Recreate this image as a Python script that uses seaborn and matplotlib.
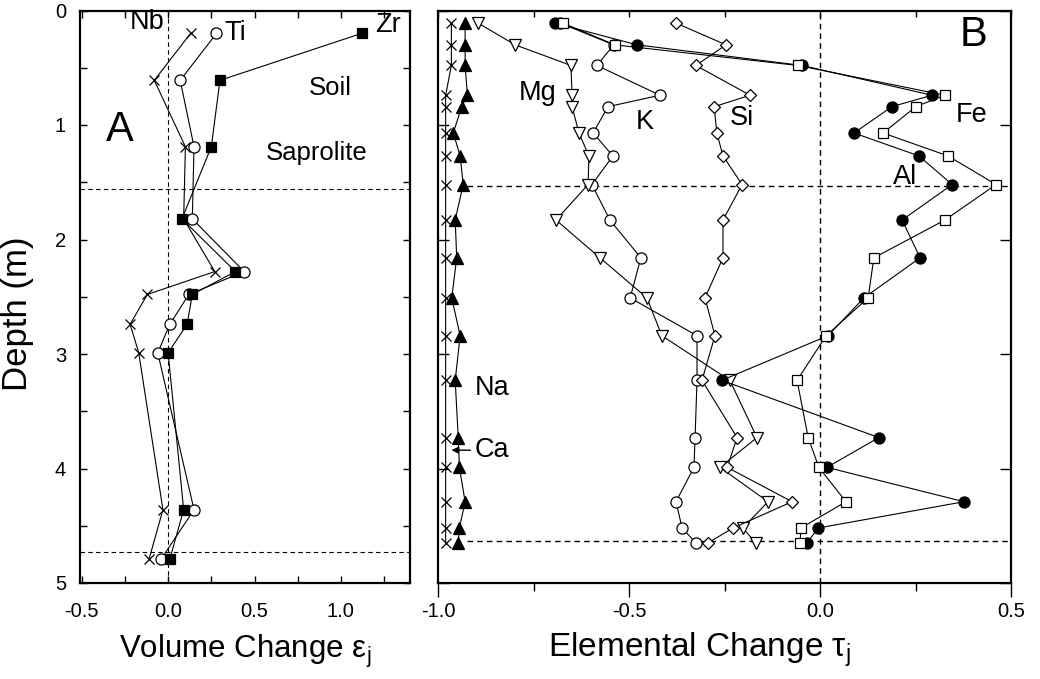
import numpy as np
import pandas as pd
import matplotlib
matplotlib.use('Agg')
import matplotlib.pyplot as plt
from matplotlib.ticker import MultipleLocator, FixedLocator
import seaborn as sns

# ---------------- data ----------------
# Panel A : volume change vs depth
depth_a = [0.20, 0.61, 1.19, 1.82, 2.28, 2.48, 2.74, 2.99, 4.36, 4.79]
zr = [1.12, 0.30, 0.25, 0.08, 0.39, 0.14, 0.11, 0.00, 0.09, 0.01]
ti = [0.28, 0.07, 0.15, 0.14, 0.44, 0.12, 0.01, -0.06, 0.15, -0.04]
nb = [0.13, -0.08, 0.10, 0.09, 0.27, -0.12, -0.22, -0.17, -0.03, -0.11]

# Panel B : elemental change vs depth
depth_b = [0.11, 0.30, 0.48, 0.74, 0.84, 1.07, 1.27, 1.52, 1.83, 2.16,
           2.51, 2.84, 3.23, 3.73, 3.99, 4.29, 4.52, 4.65]
fe = [-0.673, -0.537, -0.058, 0.327, 0.251, 0.165, 0.335, 0.461, 0.327, 0.141,
      0.126, 0.016, -0.060, -0.031, -0.003, 0.068, -0.050, -0.052]
al = [-0.694, -0.479, -0.047, 0.293, 0.188, 0.089, 0.259, 0.346, 0.215, 0.262,
      0.115, 0.021, -0.257, 0.154, 0.018, 0.377, -0.005, -0.034]
si = [-0.377, -0.246, -0.325, -0.183, -0.277, -0.270, -0.254, -0.204, -0.254, -0.254,
      -0.301, -0.275, -0.309, -0.217, -0.243, -0.073, -0.228, -0.293]
k = [-0.680, -0.540, -0.584, -0.419, -0.555, -0.594, -0.542, -0.597, -0.550, -0.469,
     -0.497, -0.322, -0.322, -0.327, -0.330, -0.377, -0.361, -0.325]
mg = [-0.895, -0.798, -0.652, -0.649, -0.649, -0.631, -0.605, -0.607, -0.691, -0.576,
      -0.453, -0.414, -0.236, -0.165, -0.262, -0.136, -0.202, -0.168]
na = [-0.929, -0.929, -0.929, -0.923, -0.938, -0.960, -0.942, -0.934, -0.955, -0.951,
      -0.964, -0.942, -0.955, -0.947, -0.944, -0.929, -0.944, -0.947]
ca = [-0.965, -0.965, -0.965, -0.980, -0.980, -0.980, -0.980, -0.980, -0.980, -0.980,
      -0.980, -0.980, -0.980, -0.980, -0.980, -0.980, -0.980, -0.980]

xticks_a = [-0.5, 0.0, 0.5, 1.0]
xticks_b = [-1.0, -0.5, 0.0, 0.5]
yticks = [0, 1, 2, 3, 4, 5]

# ---------------- style ----------------
sns.set_theme(style='white')
plt.rcParams['font.family'] = ['Liberation Sans', 'DejaVu Sans']
plt.rcParams['mathtext.fontset'] = 'custom'
plt.rcParams['mathtext.rm'] = 'Liberation Sans'
plt.rcParams['mathtext.it'] = 'Liberation Sans:italic'
plt.rcParams['mathtext.default'] = 'rm'
plt.rcParams['text.color'] = 'black'
plt.rcParams['axes.labelcolor'] = 'black'
plt.rcParams['xtick.color'] = 'black'
plt.rcParams['ytick.color'] = 'black'

fig = plt.figure(figsize=(10.4, 6.79), dpi=100)
axA = fig.add_axes([80/1040, 1-583/679, 330/1040, (583-10.5)/679])
axB = fig.add_axes([438/1040, 1-583/679, 573/1040, (583-10.5)/679])

LW = 0.8
def line(ax, x, y, marker, ms, filled, **kw):
    sns.lineplot(x=x, y=y, ax=ax, sort=False, estimator=None, color='black',
                 linewidth=LW, marker=marker, markersize=ms,
                 markerfacecolor='black' if filled else 'white',
                 markeredgecolor='black', markeredgewidth=0.9, **kw)

# ---- Panel A ----
line(axA, nb, depth_a, 'x', 7, True)
line(axA, ti, depth_a, 'o', 8, False)
line(axA, zr, depth_a, 's', 7, True)

dash = (0, (4, 3))
axA.axvline(0, color='black', lw=0.8, ls=dash, zorder=0)
axA.axhline(1.56, color='black', lw=0.8, ls=dash, zorder=0)
axA.axhline(4.73, color='black', lw=0.8, ls=dash, zorder=0)

axA.set_xlim(-0.51, 1.40)
axA.set_ylim(5, 0)
axA.xaxis.set_major_locator(FixedLocator(xticks_a))
axA.xaxis.set_minor_locator(MultipleLocator(0.25))
axA.yaxis.set_major_locator(FixedLocator(yticks))
axA.yaxis.set_minor_locator(MultipleLocator(0.5))
axA.set_xticklabels([f'{v:.1f}' for v in xticks_a])
axA.set_yticklabels([str(v) for v in yticks])
axA.tick_params(axis='both', which='both', direction='in', length=5, width=1,
                top=True, right=True, bottom=True, left=True, labelsize=14.5, colors='black')
axA.tick_params(axis='x', which='both', pad=14)
axA.tick_params(axis='y', which='both', pad=10)
axA.set_xlabel(r'Volume Change $\varepsilon_\mathrm{j}$', fontsize=22.5, labelpad=8)
axA.set_ylabel('Depth (m)', fontsize=25)
axA.yaxis.set_label_coords(-0.14, 0.47)

tfs = 19.5
axA.text(-0.12, 0.10, 'Nb', fontsize=tfs, ha='center', va='center')
axA.text(0.39, 0.20, 'Ti', fontsize=tfs, ha='center', va='center')
axA.text(1.27, 0.13, 'Zr', fontsize=tfs, ha='center', va='center')
axA.text(-0.28, 1.04, 'A', fontsize=30, ha='center', va='center')
axA.text(0.94, 0.68, 'Soil', fontsize=18.5, ha='center', va='center')
axA.text(0.86, 1.245, 'Saprolite', fontsize=18.5, ha='center', va='center')

# ---- Panel B ----
line(axB, k, depth_b, 'o', 8, False)
line(axB, mg, depth_b, 'v', 9, False)
line(axB, si, depth_b, 'D', 6.5, False)
line(axB, ca, depth_b, 'x', 7, True)
line(axB, na, depth_b, '^', 8.5, True)
line(axB, al, depth_b, 'o', 8, True)
line(axB, fe, depth_b, 's', 7.5, False)

axB.axvline(0, color='black', lw=1.0, ls=dash, zorder=0)
axB.axhline(1.53, xmin=0.05, color='black', lw=1.0, ls=dash, zorder=0)
axB.axhline(4.63, xmin=0.05, color='black', lw=1.0, ls=dash, zorder=0)

axB.set_xlim(-1.0, 0.5)
axB.set_ylim(5, 0)
axB.xaxis.set_major_locator(FixedLocator(xticks_b))
axB.xaxis.set_minor_locator(MultipleLocator(0.25))
axB.yaxis.set_major_locator(FixedLocator(yticks))
axB.set_xticklabels([f'{v:.1f}' for v in xticks_b])
axB.set_yticklabels([])
axB.tick_params(axis='x', which='major', direction='out', length=10, width=1,
                bottom=True, top=False, labelsize=14.5, pad=4, colors='black')
axB.tick_params(axis='x', which='minor', direction='out', length=6, width=1,
                bottom=True, top=False, colors='black')
axB.tick_params(axis='y', which='both', direction='in', length=8, width=1,
                left=True, right=True, colors='black')
secB = axB.secondary_xaxis('top')
secB.xaxis.set_major_locator(MultipleLocator(0.25))
secB.tick_params(direction='in', length=5, width=1, labeltop=False, colors='black')
secB.spines['top'].set_visible(False)
axB.set_xlabel(r'Elemental Change $\tau_\mathrm{j}$', fontsize=24)
axB.xaxis.set_label_coords(0.457, -0.083)

axB.text(-0.738, 0.72, 'Mg', fontsize=tfs, ha='center', va='center')
axB.text(-0.458, 0.974, 'K', fontsize=tfs, ha='center', va='center')
axB.text(-0.204, 0.939, 'Si', fontsize=tfs, ha='center', va='center')
axB.text(0.398, 0.913, 'Fe', fontsize=tfs, ha='center', va='center')
axB.text(0.223, 1.454, 'Al', fontsize=tfs, ha='center', va='center')
axB.text(0.401, 0.214, 'B', fontsize=30, ha='center', va='center')
axB.text(-0.859, 3.297, 'Na', fontsize=tfs, ha='center', va='center')
axB.text(-0.905, 3.84, 'Ca', fontsize=tfs, ha='left', va='center')
axB.annotate('', xy=(-0.972, 3.84), xytext=(-0.908, 3.84),
             arrowprops=dict(arrowstyle='-|>', color='black', lw=1, mutation_scale=10))

for ax in (axA, axB):
    for s in ax.spines.values():
        s.set_color('black')
        s.set_linewidth(1.6)
    ax.set_facecolor('white')

fig.savefig('out.png', dpi=100, facecolor='white')
